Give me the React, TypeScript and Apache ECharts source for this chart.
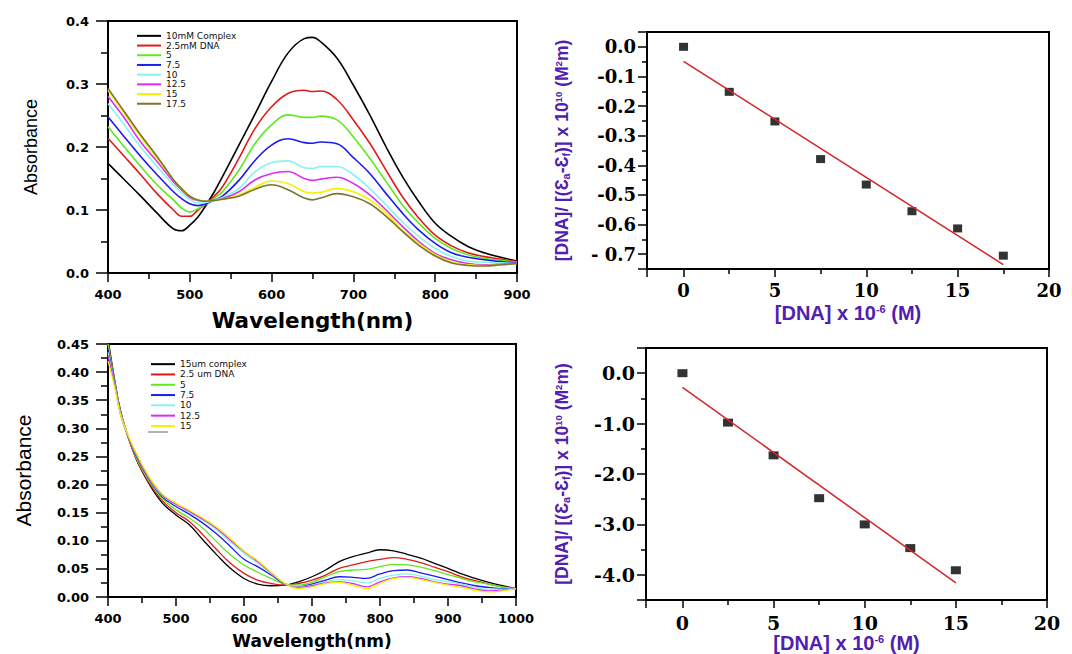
import React, { useEffect, useRef } from "react";
import * as echarts from "echarts";

// ---------- Panel A (top-left): UV-Vis spectra, 400-900 nm ----------
const wavelengthsA = [400, 420, 440, 460, 480, 490, 500, 510, 520, 530, 540, 560, 580, 600, 620, 640, 650, 660, 680, 700, 720, 740, 760, 780, 800, 820, 840, 860, 880, 900];
const namesA = ["10mM Complex", "2.5mM DNA", "5", "7.5", "10", "12.5", "15", "17.5"];
const colorsA = ["#000000", "#e01b1b", "#5fe81e", "#1c1cf0", "#86f2f2", "#dc2cf0", "#f2f200", "#7a7530"];
const absA0 = [0.174, 0.148, 0.122, 0.095, 0.07, 0.067, 0.076, 0.089, 0.108, 0.129, 0.153, 0.203, 0.253, 0.304, 0.349, 0.372, 0.374, 0.367, 0.341, 0.298, 0.251, 0.2, 0.153, 0.113, 0.079, 0.058, 0.042, 0.032, 0.025, 0.019];
const absA1 = [0.214, 0.185, 0.156, 0.126, 0.1, 0.09, 0.09, 0.1, 0.11, 0.122, 0.137, 0.182, 0.23, 0.264, 0.285, 0.29, 0.288, 0.289, 0.275, 0.243, 0.206, 0.163, 0.121, 0.087, 0.06, 0.043, 0.032, 0.026, 0.022, 0.018];
const absA2 = [0.232, 0.2, 0.169, 0.14, 0.116, 0.103, 0.097, 0.102, 0.11, 0.119, 0.129, 0.163, 0.206, 0.235, 0.251, 0.247, 0.247, 0.249, 0.243, 0.216, 0.182, 0.145, 0.108, 0.079, 0.055, 0.039, 0.029, 0.023, 0.02, 0.017];
const absA3 = [0.248, 0.216, 0.185, 0.156, 0.129, 0.118, 0.11, 0.107, 0.11, 0.116, 0.122, 0.147, 0.179, 0.203, 0.213, 0.207, 0.206, 0.208, 0.205, 0.183, 0.158, 0.126, 0.095, 0.068, 0.047, 0.032, 0.025, 0.021, 0.018, 0.016];
const absA4 = [0.269, 0.235, 0.2, 0.169, 0.14, 0.127, 0.117, 0.111, 0.112, 0.116, 0.12, 0.134, 0.161, 0.175, 0.178, 0.167, 0.166, 0.169, 0.169, 0.156, 0.134, 0.108, 0.081, 0.058, 0.039, 0.026, 0.019, 0.017, 0.016, 0.015];
const absA5 = [0.28, 0.246, 0.208, 0.177, 0.145, 0.132, 0.12, 0.115, 0.114, 0.116, 0.118, 0.129, 0.148, 0.158, 0.161, 0.15, 0.147, 0.149, 0.152, 0.142, 0.124, 0.1, 0.074, 0.05, 0.031, 0.021, 0.015, 0.013, 0.014, 0.015];
const absA6 = [0.29, 0.253, 0.216, 0.182, 0.148, 0.134, 0.122, 0.116, 0.114, 0.115, 0.117, 0.124, 0.136, 0.146, 0.142, 0.129, 0.127, 0.128, 0.134, 0.129, 0.116, 0.095, 0.068, 0.047, 0.029, 0.018, 0.013, 0.012, 0.013, 0.015];
const absA7 = [0.293, 0.256, 0.219, 0.185, 0.148, 0.134, 0.122, 0.116, 0.114, 0.115, 0.117, 0.122, 0.133, 0.14, 0.132, 0.119, 0.116, 0.119, 0.126, 0.121, 0.11, 0.09, 0.066, 0.044, 0.027, 0.016, 0.012, 0.011, 0.013, 0.015];
const absA = [absA0, absA1, absA2, absA3, absA4, absA5, absA6, absA7];

// ---------- Panel C (bottom-left): UV-Vis spectra, 400-1000 nm ----------
const wavelengthsC = [400, 410, 420, 440, 460, 480, 500, 520, 540, 560, 580, 600, 620, 640, 660, 680, 700, 720, 740, 760, 780, 800, 820, 840, 860, 880, 900, 920, 940, 960, 980, 1000];
const namesC = ["15um complex", "2.5 um DNA", "5", "7.5", "10", "12.5", "15"];
const colorsC = ["#000000", "#e01b1b", "#5fe81e", "#1c1cf0", "#86f2f2", "#dc2cf0", "#f2f200"];
const absC0 = [0.46, 0.385, 0.324, 0.25, 0.202, 0.167, 0.146, 0.128, 0.101, 0.075, 0.051, 0.033, 0.023, 0.02, 0.021, 0.027, 0.036, 0.048, 0.063, 0.072, 0.078, 0.084, 0.082, 0.076, 0.069, 0.06, 0.051, 0.041, 0.033, 0.026, 0.02, 0.015];
const absC1 = [0.455, 0.382, 0.322, 0.25, 0.204, 0.171, 0.15, 0.134, 0.11, 0.084, 0.06, 0.042, 0.03, 0.024, 0.021, 0.024, 0.03, 0.039, 0.051, 0.057, 0.063, 0.067, 0.07, 0.067, 0.061, 0.053, 0.045, 0.036, 0.029, 0.023, 0.018, 0.015];
const absC2 = [0.45, 0.383, 0.322, 0.252, 0.207, 0.175, 0.155, 0.14, 0.122, 0.098, 0.075, 0.057, 0.044, 0.033, 0.023, 0.021, 0.026, 0.036, 0.045, 0.048, 0.049, 0.054, 0.058, 0.057, 0.053, 0.047, 0.04, 0.033, 0.027, 0.023, 0.018, 0.015];
const absC3 = [0.44, 0.38, 0.32, 0.255, 0.21, 0.178, 0.161, 0.147, 0.131, 0.112, 0.09, 0.067, 0.054, 0.039, 0.023, 0.018, 0.023, 0.03, 0.036, 0.035, 0.033, 0.041, 0.047, 0.048, 0.043, 0.037, 0.031, 0.025, 0.02, 0.017, 0.015, 0.015];
const absC4 = [0.435, 0.378, 0.32, 0.257, 0.212, 0.18, 0.164, 0.15, 0.136, 0.119, 0.098, 0.078, 0.06, 0.042, 0.024, 0.018, 0.021, 0.027, 0.031, 0.029, 0.025, 0.033, 0.039, 0.041, 0.037, 0.031, 0.027, 0.023, 0.017, 0.014, 0.014, 0.015];
const absC5 = [0.43, 0.376, 0.318, 0.258, 0.213, 0.181, 0.165, 0.152, 0.138, 0.122, 0.101, 0.081, 0.063, 0.043, 0.024, 0.017, 0.02, 0.025, 0.027, 0.024, 0.018, 0.027, 0.034, 0.036, 0.033, 0.027, 0.023, 0.02, 0.014, 0.011, 0.012, 0.015];
const absC6 = [0.42, 0.372, 0.318, 0.26, 0.215, 0.183, 0.167, 0.154, 0.14, 0.124, 0.104, 0.082, 0.065, 0.044, 0.024, 0.015, 0.018, 0.024, 0.026, 0.021, 0.015, 0.024, 0.033, 0.035, 0.031, 0.026, 0.021, 0.017, 0.012, 0.009, 0.011, 0.015];
const absC = [absC0, absC1, absC2, absC3, absC4, absC5, absC6];

// ---------- Panel B (top-right): binding plot ----------
const dnaB = [0, 2.5, 5, 7.5, 10, 12.5, 15, 17.5];
const ratioB = [0.0, -0.152, -0.252, -0.379, -0.465, -0.555, -0.613, -0.705];
const fitXB = [0, 17.5];
const fitYB = [-0.049, -0.735];

// ---------- Panel D (bottom-right): binding plot ----------
const dnaD = [0, 2.5, 5, 7.5, 10, 12.5, 15];
const ratioD = [0.0, -0.98, -1.63, -2.48, -3.0, -3.47, -3.91];
const fitXD = [0, 15];
const fitYD = [-0.28, -4.16];

// axis ranges of the right panels
const xRangeR = [-2, 20];
const yRangeB = [-0.75, 0.05];
const yRangeD = [-4.5, 0.5];

const PURPLE = "#5020b0";
const BLACK = "#000";

const sansBold = { fontFamily: "DejaVu Sans", fontWeight: "bold" as const, color: BLACK };
const serifBold = { fontFamily: "DejaVu Serif", fontWeight: "bold" as const, color: BLACK };

function leftX(gridIndex: number, min: number, max: number, margin: number, nameGap: number, nameSize: number) {
  return {
    type: "value", gridIndex, min, max, interval: 100,
    axisLine: { show: true, onZero: false, lineStyle: { color: BLACK, width: 2 } },
    axisTick: { show: true, length: 9, lineStyle: { color: BLACK, width: 1.5 } },
    minorTick: { show: true, splitNumber: 2, length: 6, lineStyle: { color: BLACK, width: 1.5 } },
    axisLabel: { ...sansBold, fontSize: 13, margin, formatter: (v: number) => String(v) },
    splitLine: { show: false },
    name: "Wavelength(nm)", nameLocation: "middle", nameGap,
    nameTextStyle: { ...sansBold, fontSize: nameSize },
  };
}

function leftY(gridIndex: number, max: number, interval: number, digits: number, nameGap: number, nameSize: number) {
  return {
    type: "value", gridIndex, min: 0, max, interval,
    axisLine: { show: true, onZero: false, lineStyle: { color: BLACK, width: 2 } },
    axisTick: { show: true, length: 12, lineStyle: { color: BLACK, width: 1.5 } },
    minorTick: { show: true, splitNumber: 2, length: 7, lineStyle: { color: BLACK, width: 1.5 } },
    axisLabel: { ...sansBold, fontSize: 13, margin: 19, formatter: (v: number) => v.toFixed(digits) },
    splitLine: { show: false },
    name: "Absorbance", nameLocation: "middle", nameRotate: 90, nameGap,
    nameTextStyle: { fontFamily: "Liberation Sans", fontSize: nameSize, color: BLACK },
  };
}

const richPurple = (size: number) => ({
  sub: { fontFamily: "Liberation Sans", fontWeight: "bold", fontSize: size * 0.62, color: PURPLE, verticalAlign: "bottom" },
  sup: { fontFamily: "Liberation Sans", fontWeight: "bold", fontSize: size * 0.55, color: PURPLE, verticalAlign: "top" },
});
const xNameR = "[DNA] x 10{sup|-6} (M)";
const yNameR = "[DNA]/ [(Ɛ{sub|a}-Ɛ{sub|f})] x 10{sup|10} (M{sup|2}m)";
const xNameStyle = { fontFamily: "Liberation Sans", fontWeight: "bold", fontSize: 20, color: PURPLE, rich: richPurple(20) };
const yNameStyle = { fontFamily: "Liberation Sans", fontWeight: "bold", fontSize: 17.5, color: PURPLE, rich: richPurple(17.5) };

// right panels: nice ticks picked by ECharts from splitNumber (frame ends are not on the tick grid)
function rightX(gridIndex: number, labelSize: number, margin: number, nameGap: number) {
  return {
    type: "value", gridIndex, min: xRangeR[0], max: xRangeR[1], splitNumber: 5,
    axisLine: { show: true, onZero: false, lineStyle: { color: BLACK, width: 2 } },
    axisTick: { show: true, length: 8, lineStyle: { color: BLACK, width: 1.5 } },
    minorTick: { show: true, splitNumber: 2, length: 5, lineStyle: { color: BLACK, width: 1.5 } },
    axisLabel: { ...serifBold, fontSize: labelSize, margin, showMinLabel: false },
    splitLine: { show: false },
    name: xNameR, nameLocation: "middle", nameGap, nameTextStyle: xNameStyle,
  };
}
function rightY(gridIndex: number, range: number[], splitNumber: number, fmt: (v: number) => string, labelSize: number, nameGap: number) {
  return {
    type: "value", gridIndex, min: range[0], max: range[1], splitNumber,
    axisLine: { show: true, onZero: false, lineStyle: { color: BLACK, width: 2 } },
    axisTick: { show: true, length: 9, lineStyle: { color: BLACK, width: 1.5 } },
    minorTick: { show: true, splitNumber: 2, length: 5, lineStyle: { color: BLACK, width: 1.5 } },
    axisLabel: { ...serifBold, fontSize: labelSize, margin: 11, showMinLabel: false, showMaxLabel: false, formatter: fmt },
    splitLine: { show: false },
    name: yNameR, nameLocation: "middle", nameRotate: 90, nameGap, nameTextStyle: yNameStyle,
  };
}

function legendFor(names: string[], left: number, top: number, lineHeight: number) {
  return {
    data: names, orient: "vertical", left, top, padding: 0, itemGap: 0,
    itemWidth: 24, itemHeight: 2, icon: "rect", selectedMode: false,
    textStyle: { fontFamily: "DejaVu Sans", fontSize: 9, lineHeight, color: "#111" },
  };
}

export default function App() {
  const ref = useRef<HTMLDivElement>(null);
  useEffect(() => {
    if (!ref.current) return;
    const chart = echarts.init(ref.current, undefined, { renderer: "svg" });

    const series: any[] = [];
    absA.forEach((vals, i) => {
      series.push({
        type: "line", name: namesA[i], xAxisIndex: 0, yAxisIndex: 0,
        data: wavelengthsA.map((w, j) => [w, vals[j]]),
        smooth: 0.4, symbol: "none", color: colorsA[i],
        lineStyle: { color: colorsA[i], width: 1.6 }, clip: true,
      });
    });
    absC.forEach((vals, i) => {
      series.push({
        type: "line", name: namesC[i], xAxisIndex: 2, yAxisIndex: 2,
        data: wavelengthsC.map((w, j) => [w, vals[j]]),
        smooth: 0.4, symbol: "none", color: colorsC[i],
        lineStyle: { color: colorsC[i], width: 1.3 }, clip: true,
      });
    });
    series.push({
      type: "line", name: "fitB", xAxisIndex: 1, yAxisIndex: 1,
      data: fitXB.map((x, i) => [x, fitYB[i]]), symbol: "none",
      lineStyle: { color: "#d42424", width: 1.5 }, color: "#d42424",
    });
    series.push({
      type: "scatter", name: "dataB", xAxisIndex: 1, yAxisIndex: 1,
      data: dnaB.map((x, i) => [x, ratioB[i]]), symbol: "rect", symbolSize: [9, 8],
      itemStyle: { color: BLACK },
    });
    series.push({
      type: "line", name: "fitD", xAxisIndex: 3, yAxisIndex: 3,
      data: fitXD.map((x, i) => [x, fitYD[i]]), symbol: "none",
      lineStyle: { color: "#d42424", width: 1.5 }, color: "#d42424",
    });
    series.push({
      type: "scatter", name: "dataD", xAxisIndex: 3, yAxisIndex: 3,
      data: dnaD.map((x, i) => [x, ratioD[i]]), symbol: "rect", symbolSize: [10, 8],
      itemStyle: { color: BLACK },
    });

    const gridBase = { show: true, borderColor: BLACK, borderWidth: 2, backgroundColor: "transparent", containLabel: false };

    chart.setOption({
      animation: false,
      backgroundColor: "#fff",
      grid: [
        { ...gridBase, left: 108, top: 21, width: 409, height: 252 },
        { ...gridBase, left: 647, top: 32, width: 402, height: 237 },
        { ...gridBase, left: 108, top: 344, width: 408, height: 253 },
        { ...gridBase, left: 646, top: 348, width: 401, height: 252 },
      ],
      xAxis: [
        leftX(0, 400, 900, 15, 36, 21.5),
        rightX(1, 18, 12, 34),
        leftX(2, 400, 1000, 15, 35, 17),
        rightX(3, 19, 13, 33),
      ],
      yAxis: [
        leftY(0, 0.4, 0.1, 1, 68, 18),
        rightY(1, yRangeB, 8, (v: number) => (Math.abs(v + 0.7) < 1e-9 ? "- 0.7" : v.toFixed(1)), 18, 76),
        leftY(2, 0.45, 0.05, 2, 74, 21),
        rightY(3, yRangeD, 5, (v: number) => v.toFixed(1), 19, 75),
      ],
      legend: [
        legendFor(namesA, 137, 31, 9.7),
        legendFor(namesC, 151, 359, 10.3),
      ],
      graphic: [
        { type: "line", shape: { x1: 148, y1: 432, x2: 168, y2: 432 }, style: { stroke: "#999", lineWidth: 1.5 } },
      ],
      series,
    });
    return () => chart.dispose();
  }, []);
  return <div ref={ref} style={{ position: "fixed", left: 0, top: 0, width: 1072, height: 654, background: "#fff" }} />;
}
